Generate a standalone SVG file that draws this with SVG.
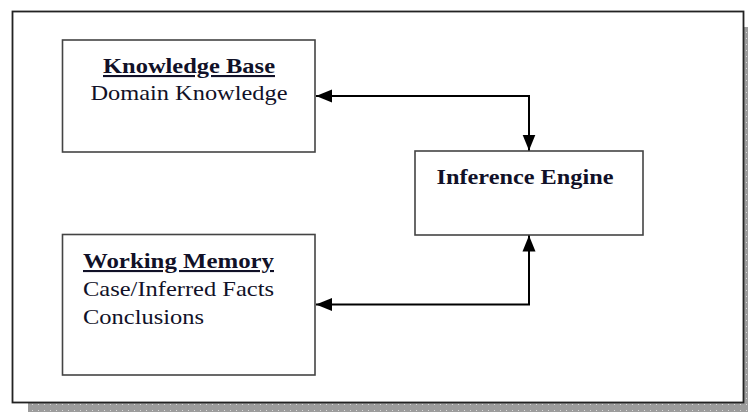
<svg xmlns="http://www.w3.org/2000/svg" width="748" height="412" viewBox="0 0 748 412">
<defs>
<pattern id="dots" width="6" height="6" patternUnits="userSpaceOnUse">
<rect width="6" height="6" fill="#9c9c9c"/>
<rect x="2" y="2" width="1" height="1" fill="#d8d8d8"/>
</pattern>
<marker id="ah" viewBox="0 0 16 16" refX="16" refY="8" markerWidth="16" markerHeight="16" markerUnits="userSpaceOnUse" orient="auto-start-reverse">
<path d="M0,1.5 L16,8 L0,14.5 Z" fill="#000"/>
</marker>
<style>
.box{fill:#fff;stroke:#444;stroke-width:1.6}
.t{font-family:"Liberation Serif","Times New Roman",serif;font-size:21px;fill:#111128}
.b{font-weight:bold;text-decoration:underline}
.bb{font-weight:bold}
.conn{fill:none;stroke:#000;stroke-width:2}
</style>
</defs>
<rect x="0" y="0" width="748" height="412" fill="#fff"/>
<rect x="744" y="27" width="4" height="385" fill="url(#dots)"/>
<rect x="28" y="403" width="720" height="9" fill="url(#dots)"/>
<rect x="12.5" y="11.5" width="731" height="391" fill="#fff" stroke="#222" stroke-width="1.8"/>
<g id="knowledge-base">
<rect class="box" x="62.5" y="40" width="252.5" height="112"/>
<text class="t b" x="189" y="73" text-anchor="middle" textLength="172" lengthAdjust="spacingAndGlyphs">Knowledge Base</text>
<text class="t" x="189" y="100" text-anchor="middle" textLength="197" lengthAdjust="spacingAndGlyphs">Domain Knowledge</text>
</g>
<g id="inference-engine">
<rect class="box" x="415" y="151" width="228" height="84"/>
<text class="t bb" x="525" y="184" text-anchor="middle" textLength="177" lengthAdjust="spacingAndGlyphs">Inference Engine</text>
</g>
<g id="working-memory">
<rect class="box" x="62.5" y="234.5" width="252.5" height="140.5"/>
<text class="t b" x="83" y="268" textLength="191" lengthAdjust="spacingAndGlyphs">Working Memory</text>
<text class="t" x="83" y="296" textLength="191" lengthAdjust="spacingAndGlyphs">Case/Inferred Facts</text>
<text class="t" x="83" y="324" textLength="121" lengthAdjust="spacingAndGlyphs">Conclusions</text>
</g>
<g id="connectors">
<path class="conn" d="M316,96 H529 V150.5" marker-start="url(#ah)" marker-end="url(#ah)"/>
<path class="conn" d="M316,304.5 H529 V235.5" marker-start="url(#ah)" marker-end="url(#ah)"/>
</g>
</svg>
